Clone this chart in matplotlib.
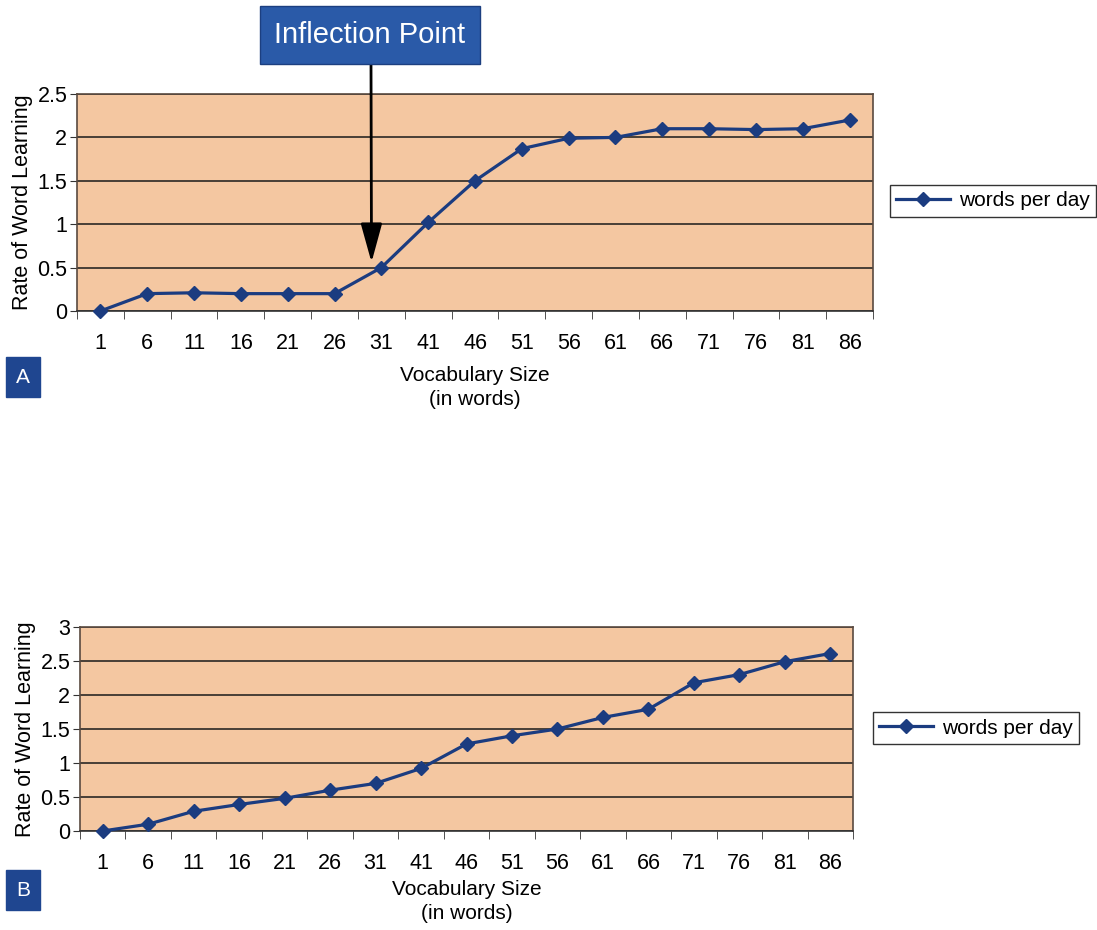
import matplotlib
matplotlib.use('Agg')
import matplotlib.pyplot as plt

# 数据
categories = ['1', '6', '11', '16', '21', '26', '31', '41', '46', '51',
              '56', '61', '66', '71', '76', '81', '86']
rate_a = [0, 0.2, 0.21, 0.2, 0.2, 0.2, 0.5, 1.02, 1.5, 1.87,
          1.99, 2.0, 2.1, 2.1, 2.09, 2.1, 2.2]
rate_b = [0, 0.1, 0.29, 0.39, 0.48, 0.6, 0.7, 0.92, 1.28, 1.4,
          1.5, 1.67, 1.79, 2.18, 2.3, 2.49, 2.61]
yticks_a = [0, 0.5, 1, 1.5, 2, 2.5]
yticks_b = [0, 0.5, 1, 1.5, 2, 2.5, 3]
series_name = 'words per day'

W, H = 1097, 930
bg = '#f4c7a1'
line_col = '#1b3c80'
fig = plt.figure(figsize=(W / 100, H / 100), dpi=100)
plt.rcParams['font.family'] = ['Liberation Sans', 'DejaVu Sans']


def px(l, t, r, b):
    return [l / W, (H - b) / H, (r - l) / W, (b - t) / H]


def draw_panel(rect, values, yticks, legend_pos, xlab_xy, letter, letter_xy):
    ax = fig.add_axes(px(*rect))
    x = list(range(len(categories)))
    ax.plot(x, values, color=line_col, lw=2.3, marker='D', ms=7,
            markerfacecolor=line_col, markeredgecolor=line_col, label=series_name,
            zorder=3, clip_on=False)
    ax.set_facecolor(bg)
    ax.set_xlim(-0.5, len(categories) - 0.5)
    ax.set_ylim(yticks[0], yticks[-1])
    ax.set_yticks(yticks)
    ax.set_yticklabels([('%g' % v) for v in yticks], fontsize=15.5)
    ax.grid(axis='y', color='#1a1a1a', lw=1.1)
    ax.set_axisbelow(True)
    ax.set_xticks(x)
    ax.set_xticklabels(categories, fontsize=15.5)
    ax.set_xticks([i - 0.5 for i in range(len(categories) + 1)], minor=True)
    ax.tick_params(axis='x', which='major', length=0, pad=16)
    ax.tick_params(axis='x', which='minor', length=6, color='#333333')
    ax.tick_params(axis='y', length=5, pad=2, color='#333333')
    for s in ax.spines.values():
        s.set_color('#5a4a40')
        s.set_linewidth(1.2)
    ax.spines['bottom'].set_color('#333333')
    ax.set_ylabel('Rate of Word Learning', fontsize=15.5, labelpad=3)
    fig.text(xlab_xy[0] / W, 1 - xlab_xy[1] / H, 'Vocabulary Size\n(in words)',
             ha='center', va='top', fontsize=15, linespacing=1.35)
    leg = ax.legend(loc='center left', bbox_to_anchor=(legend_pos[0] / W, 1 - legend_pos[1] / H),
                    bbox_transform=fig.transFigure, fontsize=15, frameon=True,
                    fancybox=False, edgecolor='black', handlelength=2.6,
                    borderpad=0.3, handletextpad=0.4, borderaxespad=0)
    leg.get_frame().set_linewidth(1)
    fig.text(letter_xy[0] / W, 1 - letter_xy[1] / H, letter, ha='center', va='center',
             color='white', fontsize=15,
             bbox=dict(boxstyle='square,pad=0.5', facecolor='#1f4690', edgecolor='#1f4690'))
    return ax


ax_a = draw_panel((77, 94, 873, 311), rate_a, yticks_a, (890, 201), (475, 366), 'A', (23, 377))
ax_b = draw_panel((80, 627, 853, 831), rate_b, yticks_b, (873, 728), (467, 880), 'B', (23, 890))

# Inflection Point 标注
fig.text(370 / W, 1 - 35 / H, 'Inflection Point', ha='center', va='center', color='white',
         fontsize=21, bbox=dict(boxstyle='square,pad=0.5', facecolor='#2a5aa8', edgecolor='#1c3f80'))
ax_a.annotate('', xy=(5.79, 0.56), xycoords='data',
              xytext=(371 / W, 1 - 63 / H), textcoords='figure fraction',
              arrowprops=dict(arrowstyle='-|>,head_length=1.2,head_width=0.33',
                              mutation_scale=20, color='black', lw=2, shrinkA=0, shrinkB=0))

fig.savefig('out.png', dpi=100, facecolor='white')
